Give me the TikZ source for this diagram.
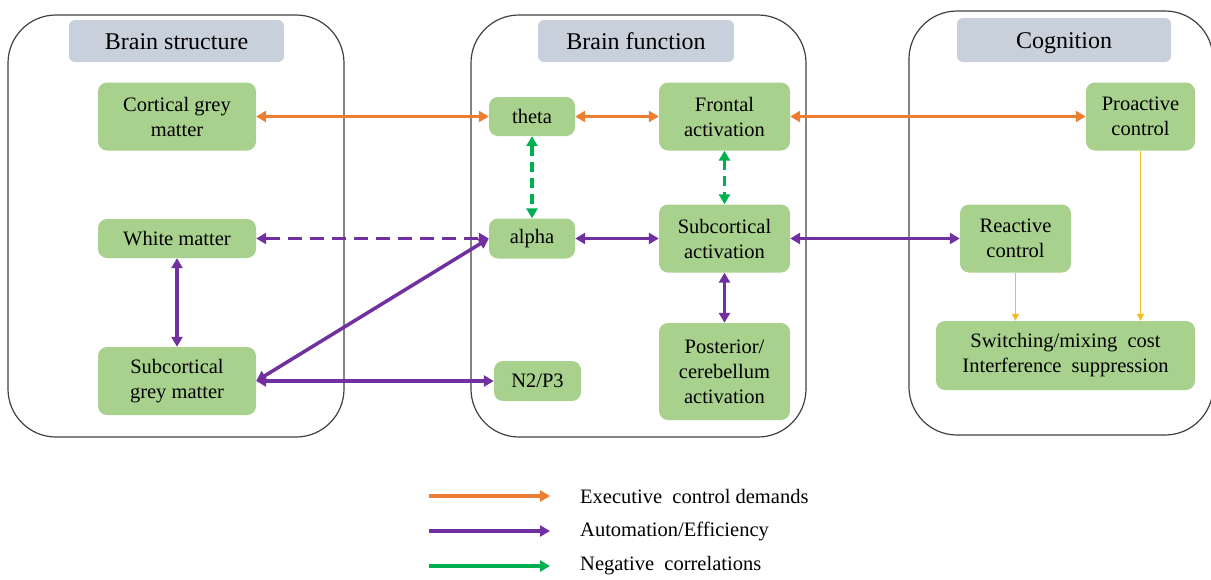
\documentclass[tikz,border=0pt]{standalone}
\usepackage{fontspec}
\setmainfont{Liberation Serif}
\usetikzlibrary{arrows.meta}
\definecolor{boxgreen}{RGB}{169,209,142}
\definecolor{hdrgrey}{RGB}{200,208,220}
\definecolor{ctrlorange}{RGB}{237,125,49}
\definecolor{autopurple}{RGB}{112,48,160}
\definecolor{neggreen}{RGB}{0,176,80}
\definecolor{cogyellow}{RGB}{240,190,30}
\tikzset{
  panel/.style={draw=black!75, line width=1.2pt, rounded corners=48pt},
  hdr/.style={fill=hdrgrey, rounded corners=6pt, inner sep=0pt, text height=19pt, text depth=2pt, font=\fontsize{24}{28}\selectfont},
  gbox/.style={fill=boxgreen, rounded corners=9pt, inner sep=0pt, align=center, font=\fontsize{20.5}{25}\selectfont},
  legtext/.style={anchor=west, inner sep=0pt, font=\fontsize{20.5}{25}\selectfont},
  ctrl/.style={ctrlorange, line width=3.5pt},
  auto/.style={autopurple, line width=3.5pt},
  neg/.style={neggreen, line width=3.5pt},
  cogline/.style={cogyellow, line width=1.5pt, -{Triangle[length=7pt,width=7pt]}},
  >={Triangle[length=10pt,width=11pt]}
}
\begin{document}
\begin{tikzpicture}[x=1pt,y=-1pt]
  \useasboundingbox (0,0) rectangle (1211,579);
  \draw[panel] (8,15) rectangle (344,437);
  \draw[panel] (471,15) rectangle (806,437);
  \draw[panel] (909,11) rectangle (1213,435);
  \draw
    (176.5,41) node[hdr, minimum width=215pt, minimum height=42pt] (hstruct) {Brain structure}
    (636,41) node[hdr, minimum width=196pt, minimum height=42pt] (hfunc) {Brain function}
    (1064,40) node[hdr, minimum width=214pt, minimum height=44pt] (hcog) {Cognition};
  \draw
    (177,116.5) node[gbox, minimum width=158pt, minimum height=68pt] (cgm) {Cortical grey\\matter}
    (177,238.5) node[gbox, minimum width=158pt, minimum height=39pt] (wm) {White matter}
    (177,381) node[gbox, minimum width=158pt, minimum height=68pt] (sgm) {Subcortical\\grey matter}
    (532,116.5) node[gbox, minimum width=86pt, minimum height=39pt] (theta) {theta}
    (532,238.5) node[gbox, minimum width=86pt, minimum height=40pt] (alpha) {alpha}
    (537.5,381) node[gbox, minimum width=87pt, minimum height=40pt] (n2p3) {N2/P3}
    (724.5,116.5) node[gbox, minimum width=131pt, minimum height=68pt] (front) {Frontal\\activation}
    (724.5,238.5) node[gbox, minimum width=131pt, minimum height=68pt] (subact) {Subcortical\\activation}
    (724.5,371.5) node[gbox, minimum width=131pt, minimum height=97pt] (post) {Posterior/\\cerebellum\\activation}
    (1140.5,116.5) node[gbox, minimum width=109pt, minimum height=68pt] (proact) {Proactive\\control}
    (1015.5,238.5) node[gbox, minimum width=111pt, minimum height=68pt] (react) {Reactive\\control}
    (1065.5,355.5) node[gbox, minimum width=259pt, minimum height=69pt] (switch) {Switching/mixing\ \ cost\\Interference\ \ suppression};
  \begin{scope}[<->]
    \draw[ctrl] (cgm) to (theta);
    \draw[ctrl] (theta) to (front);
    \draw[ctrl] (front) to (proact);
    \draw[neg, dash pattern=on 10pt off 6pt] (theta) to (alpha);
    \draw[neg, dash pattern=on 10pt off 6pt] (front) to (subact);
    \draw[auto, dash pattern=on 14pt off 8pt] (wm) to (alpha);
    \draw[auto] (alpha) to (subact);
    \draw[auto] (subact) to (react);
    \draw[auto] (subact) to (post);
    \draw[auto] (wm) to (sgm);
    \draw[auto] (sgm.east) to (alpha.west);
    \draw[auto] (sgm.east) to (n2p3);
  \end{scope}
  \draw[cogline] (proact.south) to (proact.south |- switch.north);
  \draw[cogline] (react.south) to (react.south |- switch.north);
  \coordinate (ls1) at (429,496);
  \coordinate (le1) at (550,496);
  \coordinate (ls2) at (429,531);
  \coordinate (le2) at (550,531);
  \coordinate (ls3) at (429,566);
  \coordinate (le3) at (550,566);
  \draw[ctrl, ->] (ls1) to (le1);
  \draw[auto, ->] (ls2) to (le2);
  \draw[neg, ->] (ls3) to (le3);
  \node[legtext] (lctrl) at (580,496) {Executive\ \ control demands};
  \node[legtext] (lauto) at (580,531) {Automation/Efficiency};
  \node[legtext] (lneg) at (580,566) {Negative\ \ correlations};
\end{tikzpicture}
\end{document}
